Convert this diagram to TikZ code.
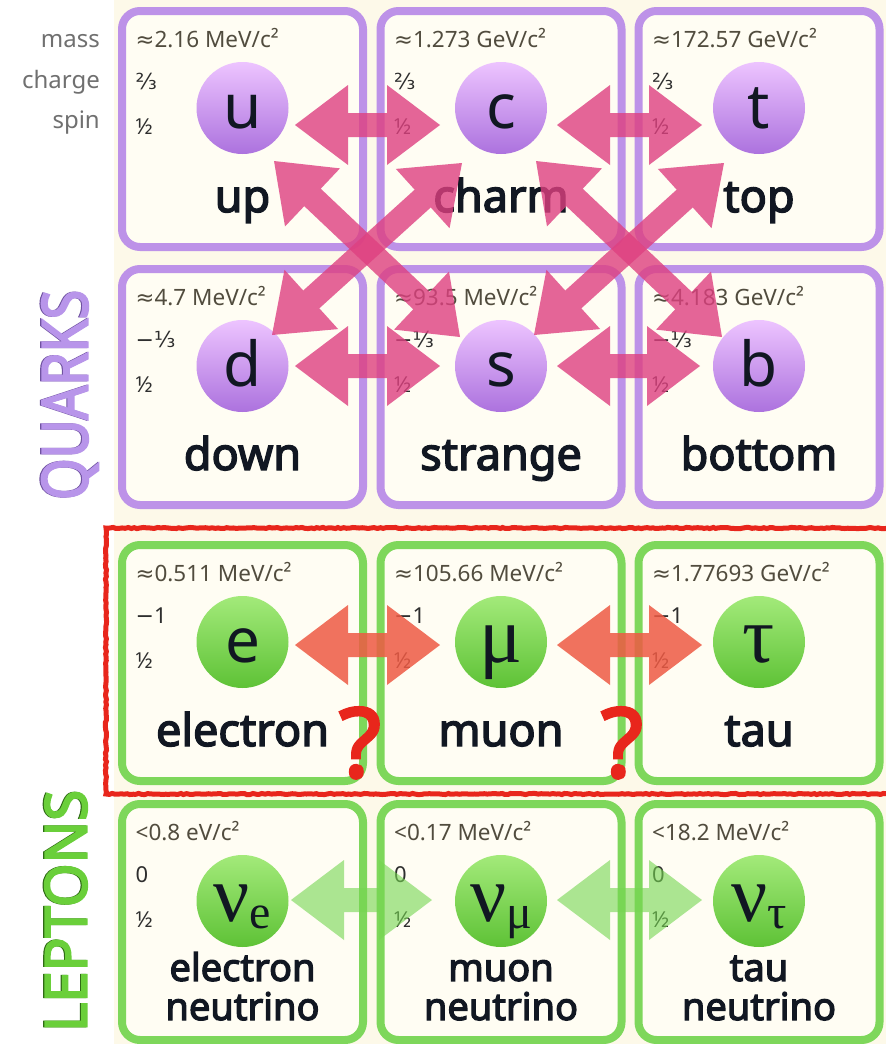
\documentclass[tikz,border=0pt]{standalone}
\usepackage{fontspec}
\usepackage{graphicx}
\setmainfont{Noto Sans}[AutoFakeBold=3.2]
\newfontfamily\symfont{DejaVu Sans}
\newfontfamily\greekfont{Liberation Serif}
\usetikzlibrary{calc,decorations.pathmorphing}

\definecolor{paper}{HTML}{FDF9E9}
\definecolor{cellfill}{HTML}{FFFDF3}
\definecolor{quarkline}{HTML}{BD92E8}
\definecolor{leptonline}{HTML}{7ED75B}
\definecolor{quarklight}{HTML}{EDC4FF}
\definecolor{quarkdark}{HTML}{AC72DE}
\definecolor{leptonlight}{HTML}{A3EA7A}
\definecolor{leptondark}{HTML}{5EC236}
\definecolor{quarkarrow}{HTML}{DE4080}
\definecolor{leptonarrow}{HTML}{EE5A44}
\definecolor{nuarrow}{HTML}{74D650}
\definecolor{alert}{HTML}{E8261C}
\definecolor{masstext}{HTML}{514C3E}
\definecolor{inktext}{HTML}{2E2E2E}
\definecolor{nametext}{HTML}{111722}
\definecolor{rowlabel}{HTML}{707070}
\definecolor{quarktitle}{HTML}{B895EA}
\definecolor{quarkshadow}{HTML}{6F52A0}
\definecolor{leptontitle}{HTML}{6ACF3A}
\definecolor{leptonshadow}{HTML}{2F6A16}

% Greek particle symbols and neutrino symbols with a flavour subscript
\newcommand\gk[1]{{\greekfont\fontsize{80}{80}\selectfont #1}}
\newcommand\nusym[1]{{\greekfont\fontsize{80}{80}\selectfont ν\raisebox{-7pt}{\fontsize{48}{48}\selectfont #1}}}
\newcommand\twoline[2]{\begin{tabular}[b]{@{}c@{}}#1\\#2\end{tabular}}

\tikzset{
  cellbox/.style={line width=8pt, fill=cellfill, rounded corners=18pt,
    minimum width=241pt, minimum height=236pt, inner sep=0pt},
  qcell/.style={cellbox, draw=quarkline},
  lcell/.style={cellbox, draw=leptonline},
  ncell/.style={lcell},
  orb/.style={circle, minimum size=92pt, inner sep=0pt, text height=40pt,
    text depth=0pt, shading angle=30, text=nametext,
    font=\fontsize{62}{62}\selectfont},
  qorb/.style={orb, top color=quarklight, bottom color=quarkdark},
  lorb/.style={orb, top color=leptonlight, bottom color=leptondark},
  norb/.style={lorb},
  masslabel/.style={anchor=base west, inner sep=0pt, text=masstext,
    font=\fontsize{22.5}{25}\selectfont},
  smalllabel/.style={anchor=base west, inner sep=0pt, text=inktext,
    font=\fontsize{22}{24}\selectfont},
  partname/.style={anchor=base, inner sep=0pt, text=nametext,
    font=\bfseries\fontsize{45}{48}\selectfont},
  qname/.style={partname}, lname/.style={partname},
  nname/.style={partname, font=\bfseries\fontsize{38}{37}\selectfont, yshift=-15pt},
  rowname/.style={anchor=base east, inner sep=0pt, text=rowlabel,
    font=\fontsize{24}{28}\selectfont},
  qarrow/.style={fill=quarkarrow, fill opacity=0.8},
  larrow/.style={fill=leptonarrow, fill opacity=0.85},
  narrow/.style={fill=nuarrow, fill opacity=0.6},
  alertframe/.style={draw=alert, line width=5pt,
    decorate, decoration={random steps, segment length=3pt, amplitude=0.6pt}},
  qmark/.style={anchor=base, inner sep=0pt, text=alert,
    font=\bfseries\fontsize{96}{96}\selectfont},
}

% one cell: #1 name, #2 centre x, #3 top y, #4 family (q/l/n),
% #5 symbol, #6 mass, #7 charge, #8 spin, #9 particle name
\newcommand\particle[9]{%
  \node[#4cell] (#1-cell) at (#2,#3+122) {};
  \node[masslabel] (#1-mass) at (#2-107,#3+40) {#6};
  \node[smalllabel] (#1-charge) at (#2-107,#3+82) {#7};
  \node[smalllabel] (#1-spin) at (#2-107,#3+127) {#8};
  \node[#4orb] (#1) at (#2,#3+101) {#5};
  \node[#4name] (#1-name) at (#2,#3+205) {#9};
}

% block double arrow between two named points
\newcommand\dblarrow[3]{%
  \coordinate (ha) at ($(#2)!53pt!(#3)$);
  \coordinate (hb) at ($(#3)!53pt!(#2)$);
  \fill[#1] (#2) -- ($(ha)!40pt!90:(#3)$) -- ($(ha)!12pt!90:(#3)$)
    -- ($(hb)!12pt!-90:(#2)$) -- ($(hb)!40pt!-90:(#2)$) -- (#3)
    -- ($(hb)!40pt!90:(#2)$) -- ($(hb)!12pt!90:(#2)$)
    -- ($(ha)!12pt!-90:(#3)$) -- ($(ha)!40pt!-90:(#3)$) -- cycle;
}

\begin{document}
\begin{tikzpicture}[x=1pt,y=-1pt]
\useasboundingbox (0,0) rectangle (886,1044);
\fill[white] (0,0) rectangle (886,1044);
\fill[paper] (114,0) rectangle (886,1044);

% row headings
\node[rowname] (lbl-mass) at (100,47) {mass};
\node[rowname] (lbl-charge) at (100,88) {charge};
\node[rowname] (lbl-spin) at (100,128) {spin};

% group titles
\node[rotate=90, inner sep=0pt, text=quarkshadow] at (68.8,395) {\resizebox{210pt}{46pt}{\bfseries QUARKS}};
\node[rotate=90, inner sep=0pt, text=quarktitle] (quarks) at (70,395) {\resizebox{210pt}{46pt}{\bfseries QUARKS}};
\node[rotate=90, inner sep=0pt, text=leptonshadow] at (64.8,911) {\resizebox{242pt}{42pt}{\bfseries LEPTONS}};
\node[rotate=90, inner sep=0pt, text=leptontitle] (leptons) at (66,911) {\resizebox{242pt}{42pt}{\bfseries LEPTONS}};

% quarks
\particle{u}{242.5}{7}{q}{u}{{\symfont ≈}2.16 MeV/c²}{{\symfont ⅔}}{½}{up}
\particle{c}{501}{7}{q}{c}{{\symfont ≈}1.273 GeV/c²}{{\symfont ⅔}}{½}{charm}
\particle{t}{759}{7}{q}{t}{{\symfont ≈}172.57 GeV/c²}{{\symfont ⅔}}{½}{top}
\particle{d}{242.5}{265}{q}{d}{{\symfont ≈}4.7 MeV/c²}{{\symfont −⅓}}{½}{down}
\particle{s}{501}{265}{q}{s}{{\symfont ≈}93.5 MeV/c²}{{\symfont −⅓}}{½}{strange}
\particle{b}{759}{265}{q}{b}{{\symfont ≈}4.183 GeV/c²}{{\symfont −⅓}}{½}{bottom}

% charged leptons
\particle{e}{242.5}{541}{l}{e}{{\symfont ≈}0.511 MeV/c²}{{\symfont −}1}{½}{electron}
\particle{mu}{501}{541}{l}{\gk{μ}}{{\symfont ≈}105.66 MeV/c²}{{\symfont −}1}{½}{muon}
\particle{tau}{759}{541}{l}{\gk{τ}}{{\symfont ≈}1.77693 GeV/c²}{{\symfont −}1}{½}{tau}

% neutrinos
\particle{ve}{242.5}{800}{n}{\nusym{e}}{<0.8 eV/c²}{0}{½}{\twoline{electron}{neutrino}}
\particle{vmu}{501}{800}{n}{\nusym{μ}}{<0.17 MeV/c²}{0}{½}{\twoline{muon}{neutrino}}
\particle{vtau}{759}{800}{n}{\nusym{τ}}{<18.2 MeV/c²}{0}{½}{\twoline{tau}{neutrino}}

% arrow end points
\coordinate (uc-u) at (295,125);   \coordinate (uc-c) at (440,125);
\coordinate (ct-c) at (557,125);   \coordinate (ct-t) at (702,125);
\coordinate (ds-d) at (295,366);   \coordinate (ds-s) at (440,366);
\coordinate (sb-s) at (557,366);   \coordinate (sb-b) at (700,366);
\coordinate (us-u) at (274,161);   \coordinate (us-s) at (460,337);
\coordinate (dc-d) at (272,335);   \coordinate (dc-c) at (462,163);
\coordinate (cb-c) at (536,161);   \coordinate (cb-b) at (722,337);
\coordinate (st-s) at (534,335);   \coordinate (st-t) at (724,163);
\coordinate (em-e) at (295,645);   \coordinate (em-m) at (440,645);
\coordinate (mt-m) at (557,645);   \coordinate (mt-t) at (702,645);
\coordinate (nn-e) at (291,900);   \coordinate (nn-m) at (432,900);
\coordinate (nt-m) at (557,900);   \coordinate (nt-t) at (702,900);

% quark mixing
\dblarrow{qarrow}{uc-u}{uc-c}
\dblarrow{qarrow}{ct-c}{ct-t}
\dblarrow{qarrow}{ds-d}{ds-s}
\dblarrow{qarrow}{sb-s}{sb-b}
\dblarrow{qarrow}{us-u}{us-s}
\dblarrow{qarrow}{dc-d}{dc-c}
\dblarrow{qarrow}{cb-c}{cb-b}
\dblarrow{qarrow}{st-s}{st-t}

% lepton mixing
\dblarrow{larrow}{em-e}{em-m}
\dblarrow{larrow}{mt-m}{mt-t}
\dblarrow{narrow}{nn-e}{nn-m}
\dblarrow{narrow}{nt-m}{nt-t}

% charged lepton frame and open questions
\draw[alertframe] (106,528) rectangle (893,794);
\node[qmark] (q1) at (360,777) {?};
\node[qmark] (q2) at (622,777) {?};
\end{tikzpicture}
\end{document}
